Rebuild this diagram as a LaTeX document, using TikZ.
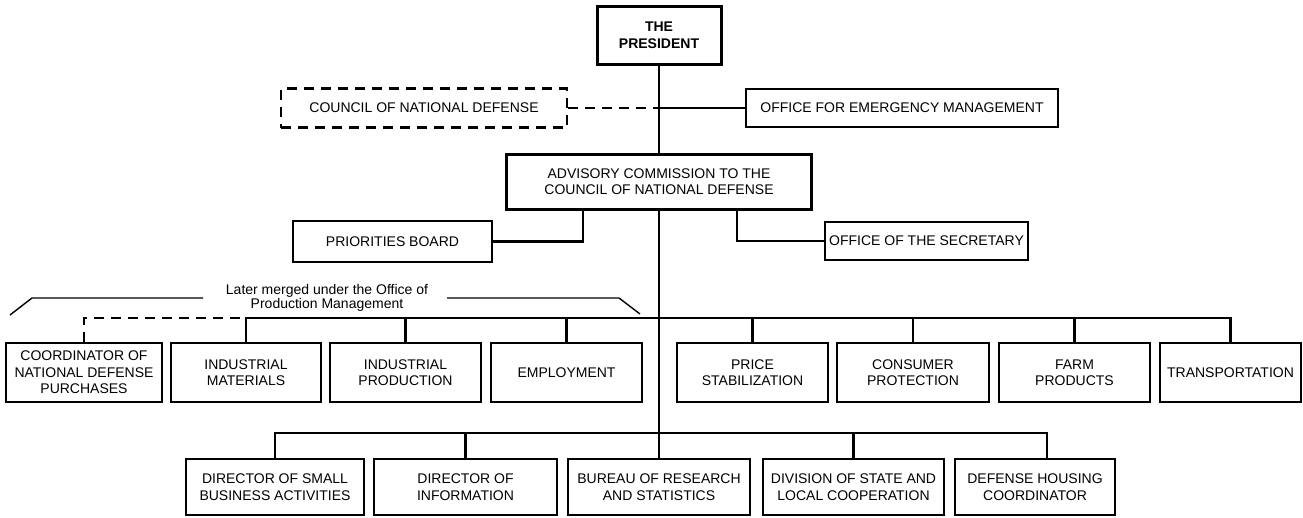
\documentclass[tikz,border=0pt]{standalone}
\usepackage{fontspec}
\setmainfont{Liberation Sans}
\usepackage{tikz}

\begin{document}
\begin{tikzpicture}[x=1pt,y=-1pt,
	orgbox/.style={shape=rectangle,draw=black,line width=2.2pt,inner sep=2pt,align=center,font=\fontsize{14}{16.5}\selectfont},
	topbox/.style={orgbox,line width=3pt},
	link/.style={line width=2.5pt},
	dashlink/.style={line width=2.2pt,dash pattern=on 10pt off 7pt}]
			\useasboundingbox (0,0) rectangle (1303,517);

			%% top
			\node[topbox, minimum width=124pt, minimum height=58pt, font=\bfseries\fontsize{14}{16.5}\selectfont] (pres) at (659,35) {THE\\PRESIDENT};
			\node[orgbox, dashlink, minimum width=286pt, minimum height=39pt] (cnd) at (424,108) {COUNCIL OF NATIONAL DEFENSE};
			\node[orgbox, minimum width=312pt, minimum height=38pt] (oem) at (902,108) {OFFICE FOR EMERGENCY MANAGEMENT};
			\node[topbox, minimum width=305pt, minimum height=55pt] (adv) at (659,181.5) {ADVISORY COMMISSION TO THE\\COUNCIL OF NATIONAL DEFENSE};
			\node[orgbox, minimum width=199pt, minimum height=41pt] (prio) at (392.5,241.5) {PRIORITIES BOARD};
			\node[orgbox, minimum width=203pt, minimum height=38pt] (sec) at (926.5,241) {OFFICE OF THE SECRETARY};

			%% middle row
			\node[orgbox, minimum width=156pt, minimum height=59pt] (cndp) at (84,372.5) {COORDINATOR OF\\NATIONAL DEFENSE\\PURCHASES};
			\node[orgbox, minimum width=150pt, minimum height=59pt] (indmat) at (246,372.5) {INDUSTRIAL\\MATERIALS};
			\node[orgbox, minimum width=151pt, minimum height=59pt] (indprod) at (405.5,372.5) {INDUSTRIAL\\PRODUCTION};
			\node[orgbox, minimum width=151pt, minimum height=59pt] (empl) at (566.5,372.5) {EMPLOYMENT};
			\node[orgbox, minimum width=151pt, minimum height=59pt] (price) at (752.5,372.5) {PRICE\\STABILIZATION};
			\node[orgbox, minimum width=152pt, minimum height=59pt] (cons) at (913,372.5) {CONSUMER\\PROTECTION};
			\node[orgbox, minimum width=151pt, minimum height=59pt] (farm) at (1074.5,372.5) {FARM\\PRODUCTS};
			\node[orgbox, minimum width=141pt, minimum height=59pt] (trans) at (1230.5,372.5) {TRANSPORTATION};

			%% bottom row
			\node[orgbox, minimum width=178pt, minimum height=56pt] (small) at (275,487) {DIRECTOR OF SMALL\\BUSINESS ACTIVITIES};
			\node[orgbox, minimum width=183pt, minimum height=56pt] (info) at (465.5,487) {DIRECTOR OF\\INFORMATION};
			\node[orgbox, minimum width=182pt, minimum height=56pt] (bureau) at (659,487) {BUREAU OF RESEARCH\\AND STATISTICS};
			\node[orgbox, minimum width=181pt, minimum height=56pt] (state) at (853.5,487) {DIVISION OF STATE AND\\LOCAL COOPERATION};
			\node[orgbox, minimum width=160pt, minimum height=56pt] (housing) at (1035,487) {DEFENSE HOUSING\\COORDINATOR};

			%% note
			\node[align=center, font=\fontsize{14}{14}\selectfont] (merged) at (327,297.5) {Later merged under the Office of\\Production Management};
			\draw[line width=1.4pt] (10,315) -- (32,298) -- (203,298);
			\draw[line width=1.4pt] (447,298) -- (619,298) -- (640,314);

			%% lines
			\coordinate (bus1) at (659,318);
			\coordinate (bus2) at (659,433);
			\coordinate (pknee) at (583,0);
			\coordinate (sknee) at (737,0);
			\draw[link] (pres) -- (adv);
			\draw[link] (adv) -- (bureau);
			\draw[dashlink] (cnd.east) -- (cnd.east -| pres.south);
			\draw[link] (pres.south |- oem.west) -- (oem.west);
			\draw[link] (prio.east) -| (pknee |- adv.south);
			\draw[link] (sec.west) -| (sknee |- adv.south);
			\draw[link] (indmat.north) |- (bus1) -| (trans.north);
			\draw[link] (indprod.north) -- (indprod.north |- bus1);
			\draw[link] (empl.north) -- (empl.north |- bus1);
			\draw[link] (price.north) -- (price.north |- bus1);
			\draw[link] (cons.north) -- (cons.north |- bus1);
			\draw[link] (farm.north) -- (farm.north |- bus1);
			\draw[dashlink] (cndp.north) |- (indmat.north |- bus1);
			\draw[link] (small.north) |- (bus2) -| ([xshift=12pt]housing.north);
			\draw[link] (info.north) -- (info.north |- bus2);
			\draw[link] (state.north) -- (state.north |- bus2);
		\end{tikzpicture}
\end{document}
